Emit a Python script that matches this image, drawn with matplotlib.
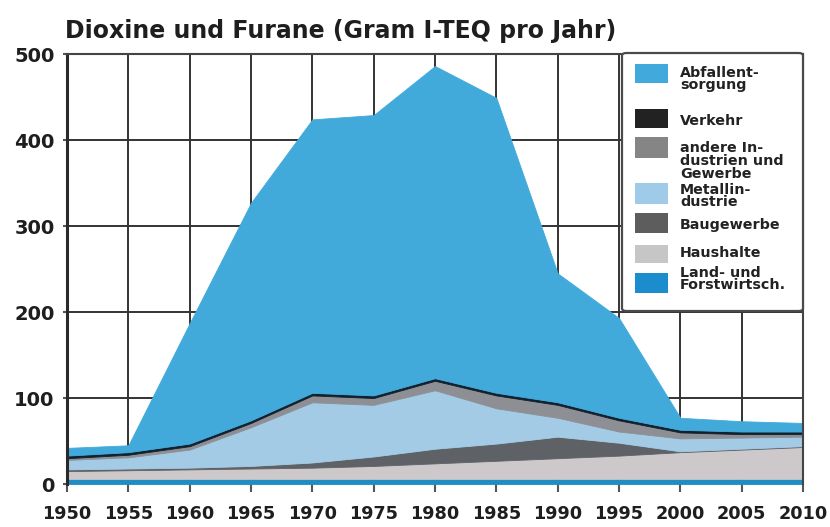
import matplotlib
matplotlib.use("Agg")
import matplotlib.pyplot as plt
from matplotlib.patches import Rectangle, FancyBboxPatch

plt.rcParams['font.family'] = ['DejaVu Sans']

# Jahre und Emissionen je Sektor (Gramm I-TEQ pro Jahr), aus dem Bild geschaetzt
years = [1950, 1955, 1960, 1965, 1970, 1975, 1980, 1985, 1990, 1995, 2000, 2005, 2010]
land = [6, 6, 6, 6, 6, 6, 6, 6, 6, 6, 6, 6, 6]
haushalte = [9, 10, 11, 12, 13, 15, 18, 21, 24, 27, 31, 34, 37]
baugewerbe = [2, 2, 2, 3, 6, 11, 17, 20, 25, 15, 1, 1, 1]
metall = [11, 13, 21, 45, 70, 60, 68, 41, 22, 13, 15, 13, 11]
andere = [2, 3, 4, 5, 8, 8, 11, 15, 15, 13, 7, 4, 3]
verkehr = [3, 3, 3, 3, 3, 3, 3, 3, 3, 3, 3, 3, 3]
abfall = [9, 8, 140, 253, 318, 326, 363, 343, 150, 116, 14, 12, 10]

layers = [land, haushalte, baugewerbe, metall, andere, verkehr, abfall]
area_colors = ['#1f8cc4', '#cdc9cb', '#5e6166', '#a3cbe6', '#8d8f94', '#10202e', '#41aadb']

legend_labels = ["Abfallent-\nsorgung", "Verkehr", "andere In-\ndustrien und\nGewerbe",
                 "Metallin-\ndustrie", "Baugewerbe", "Haushalte", "Land- und\nForstwirtsch."]
legend_colors = ['#41a9dc', '#222222', '#858585', '#9fcbe9', '#5d5d5d', '#c6c6c6', '#1c8dcc']

W, H = 830, 527
fig = plt.figure(figsize=(W / 100, H / 100), dpi=100)
ax = fig.add_axes([67 / W, (H - 484) / H, 736 / W, 430 / H])

polys = ax.stackplot(years, *layers, colors=area_colors, zorder=2)
for p, c in zip(polys, area_colors):
    p.set_edgecolor(c)
    p.set_linewidth(0.6)

ax.set_xlim(1950, 2010)
ax.set_ylim(0, 500)
ax.set_xticks(range(1950, 2011, 5))
ax.set_yticks(range(0, 501, 100))
ax.set_axisbelow(True)
ax.grid(True, color='#333333', linewidth=1.4)

for side in ['top', 'right']:
    ax.spines[side].set_color('#444444')
    ax.spines[side].set_linewidth(1.5)
ax.spines['bottom'].set_visible(False)
ax.spines['left'].set_color('#2a2a2a')
ax.spines['left'].set_linewidth(2.2)

ax.tick_params(axis='x', length=6, width=1.5, color='#555555', pad=9,
               labelsize=12.7, labelcolor='#1e1e1e')
ax.tick_params(axis='y', length=3, width=1.5, color='#555555', pad=6,
               labelsize=14, labelcolor='#1e1e1e')
for lab in ax.get_xticklabels() + ax.get_yticklabels():
    lab.set_fontweight('bold')

fig.text(65 / W, 1 - 31 / H, "Dioxine und Furane (Gram I-TEQ pro Jahr)",
         fontsize=17, fontweight='bold', color='#1e1e1e', va='center', ha='left')

# Legende als Kasten oben rechts
def fx(px):
    return (px - 67) / 736

def fy(py):
    return (484 - py) / 430

box = FancyBboxPatch((fx(622), fy(311)), fx(803) - fx(622), fy(53) - fy(311),
                     boxstyle="round,pad=0,rounding_size=0.006", transform=ax.transAxes,
                     facecolor='white', edgecolor='#4a4a4a', linewidth=1.6, zorder=5,
                     clip_on=False)
ax.add_patch(box)

patch_rows = [(64, 83), (109, 128), (137, 158), (183, 204), (213, 233), (245, 263), (273, 293)]
text_centers = [79, 121, 161, 196, 225, 253, 279]
for (t, b), yc, lab, col in zip(patch_rows, text_centers, legend_labels, legend_colors):
    ax.add_patch(Rectangle((fx(635), fy(b)), fx(668) - fx(635), fy(t) - fy(b),
                           transform=ax.transAxes, facecolor=col, edgecolor='none', zorder=6))
    ax.text(fx(680), fy(yc), lab, transform=ax.transAxes, fontsize=10.3, fontweight='bold',
            color='#222222', va='center', ha='left', linespacing=0.9, zorder=6)

fig.savefig("out.png", dpi=100)
